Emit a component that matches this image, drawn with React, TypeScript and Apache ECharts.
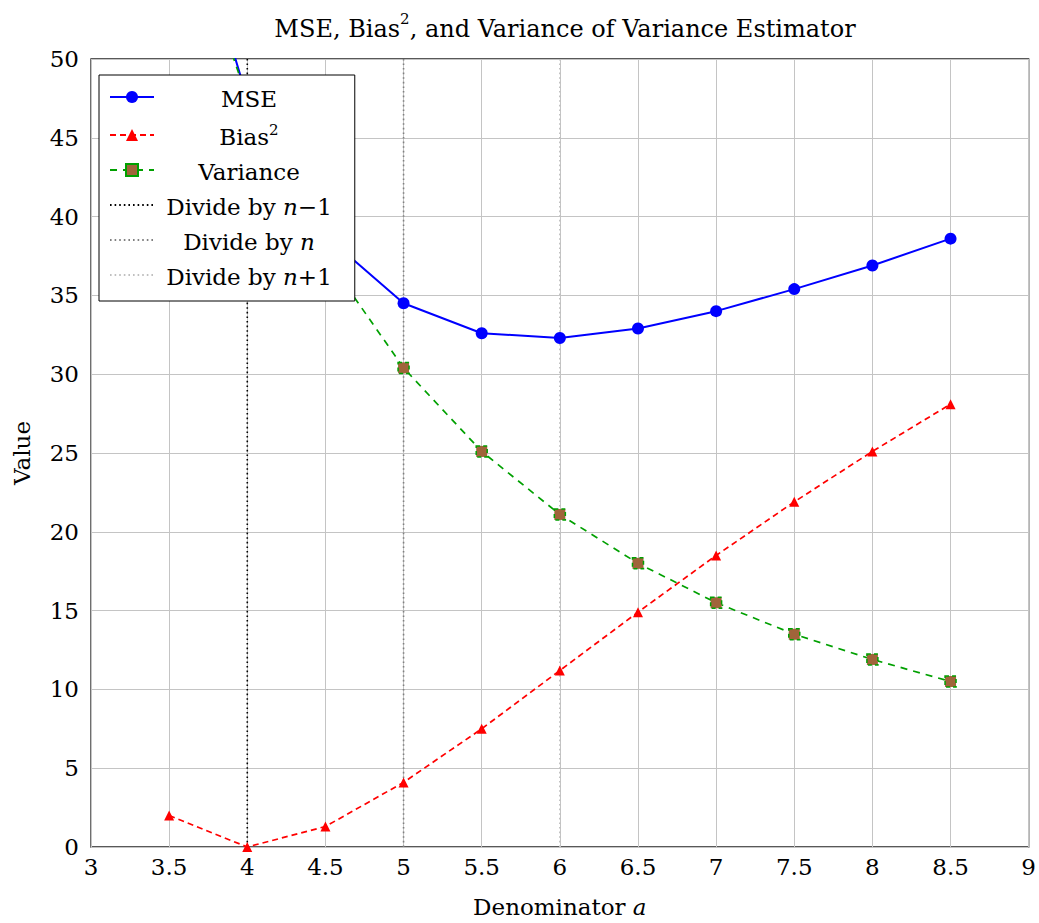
import React, { useEffect, useRef } from "react";
import * as echarts from "echarts";

const xVals = [3.5, 4, 4.5, 5, 5.5, 6, 6.5, 7, 7.5, 8, 8.5];
const mseVals = [64.0, 47.5, 38.8, 34.5, 32.6, 32.3, 32.9, 34.0, 35.4, 36.9, 38.6];
const biasVals = [2.0, 0.0, 1.3, 4.1, 7.5, 11.2, 14.9, 18.5, 21.9, 25.1, 28.1];
const varVals = [62.0, 47.5, 37.5, 30.4, 25.1, 21.1, 18.0, 15.5, 13.5, 11.9, 10.5];
const refX = [4, 5, 6];
const refNames = ["Divide by n\u22121", "Divide by n", "Divide by n+1"];
const refColors = ["#000000", "#808080", "#c0c0c0"];
const yRange = [0, 50];

const FONT = "DejaVu Serif";
const FS = 23;

export default function App() {
  const ref = useRef<HTMLDivElement>(null);
  useEffect(() => {
    if (!ref.current) return;
    const chart = echarts.init(ref.current, undefined, { renderer: "svg" });
    const pair = (ys: number[]) => xVals.map((x, i) => [x, ys[i]]);
    const refSeries = refX.map((x, i) => ({
      name: refNames[i],
      type: "line",
      data: yRange.map((y) => [x, y]),
      showSymbol: false,
      symbol: "none",
      lineStyle: { color: refColors[i], width: 1.6, type: [1.6, 3] },
      itemStyle: { color: refColors[i], opacity: 0 },
      z: 1,
    }));
    chart.setOption({
      animation: false,
      textStyle: { fontFamily: FONT },
      title: {
        text: "{t|MSE, Bias}{s|2}{t|, and Variance of Variance Estimator}",
        left: 560,
        textAlign: "center",
        top: 6,
        textStyle: {
          fontFamily: FONT,
          fontSize: 24,
          fontWeight: "normal",
          color: "#000",
          rich: {
            t: { fontFamily: FONT, fontSize: 24, lineHeight: 30, color: "#000", verticalAlign: "bottom" },
            s: { fontFamily: FONT, fontSize: 15, lineHeight: 18, color: "#000", verticalAlign: "top" },
          },
        },
      },
      grid: {
        left: 91,
        right: 9,
        top: 59,
        bottom: 76,
        show: true,
        borderColor: "#222",
        borderWidth: 1.3,
      },
      legend: {
        left: 99,
        top: 75,
        orient: "vertical",
        padding: [12, 23, 13, 10],
        itemWidth: 44,
        itemHeight: 15,
        itemGap: 12,
        itemTextGap: 7,
        backgroundColor: "#fff",
        borderColor: "#000",
        borderWidth: 1,
        data: ["MSE", "Bias\u00b2", "Variance", ...refNames],
        formatter: (name: string) => {
          if (name.startsWith("Divide by n")) {
            const rest = name.slice("Divide by n".length);
            return `{c|Divide by }{i|n}{c|${rest}}`;
          }
          if (name === "Bias\u00b2") return `{c|Bias}{s|2}`;
          return `{c|${name}}`;
        },
        textStyle: {
          width: 180,
          fontFamily: FONT,
          fontSize: FS,
          color: "#000",
          rich: {
            c: { fontFamily: FONT, fontSize: FS, align: "center", color: "#000", verticalAlign: "bottom", lineHeight: 26 },
            i: { fontFamily: FONT, fontSize: FS, fontStyle: "italic", align: "center", color: "#000", verticalAlign: "bottom", lineHeight: 26 },
            s: { fontFamily: FONT, fontSize: 15, align: "center", color: "#000", verticalAlign: "top", lineHeight: 16 },
          },
        },
      },
      xAxis: {
        type: "value",
        min: 3,
        max: 9,
        interval: 0.5,
        name: "Denominator {i|a}",
        nameLocation: "middle",
        nameGap: 48,
        nameTextStyle: {
          fontFamily: FONT,
          fontSize: FS,
          color: "#000",
          rich: { i: { fontFamily: FONT, fontSize: FS, fontStyle: "italic", color: "#000" } },
        },
        axisLine: { show: false },
        axisTick: { show: false },
        axisLabel: { fontFamily: FONT, fontSize: FS, color: "#000", margin: 8 },
        splitLine: { show: true, lineStyle: { color: "#c4c4c4", width: 1 } },
      },
      yAxis: {
        type: "value",
        min: 0,
        max: 50,
        interval: 5,
        name: "Value",
        nameLocation: "middle",
        nameGap: 58,
        nameTextStyle: { fontFamily: FONT, fontSize: FS, color: "#000" },
        axisLine: { show: false },
        axisTick: { show: false },
        axisLabel: { fontFamily: FONT, fontSize: FS, color: "#000", margin: 12 },
        splitLine: { show: true, lineStyle: { color: "#c4c4c4", width: 1 } },
      },
      series: [
        ...refSeries,
        {
          name: "MSE",
          type: "line",
          data: pair(mseVals),
          symbol: "circle",
          symbolSize: 12,
          lineStyle: { color: "#0000ff", width: 2 },
          itemStyle: { color: "#0000ff" },
          z: 3,
        },
        {
          name: "Bias\u00b2",
          type: "line",
          data: pair(biasVals),
          symbol: "triangle",
          symbolSize: 10,
          lineStyle: { color: "#ff0000", width: 1.7, type: [6, 4] },
          itemStyle: { color: "#ff0000" },
          z: 3,
        },
        {
          name: "Variance",
          type: "line",
          data: pair(varVals),
          symbol: "rect",
          symbolSize: 11,
          lineStyle: { color: "#00a000", width: 1.7, type: [7, 6] },
          itemStyle: { color: "#a0643a", borderColor: "#00a000", borderWidth: 1.5, borderType: [4, 3] },
          z: 3,
        },
      ],
    });
    return () => chart.dispose();
  }, []);
  return (
    <div
      ref={ref}
      style={{ position: "fixed", left: 0, top: 0, width: 1039, height: 923, background: "#fff" }}
    />
  );
}
